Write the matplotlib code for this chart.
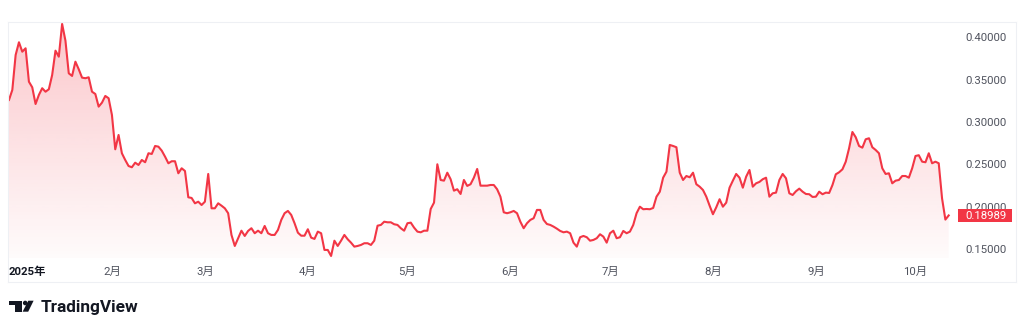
import numpy as np
import pandas as pd
import matplotlib
matplotlib.use("Agg")
import matplotlib.pyplot as plt
import matplotlib.dates as mdates
from matplotlib.patches import Rectangle, Polygon, Circle

plt.rcParams['font.family'] = ['Roboto', 'Noto Sans CJK JP', 'DejaVu Sans']

# ---- data (daily closes, 2025) ----
jan = [0.3261, 0.3379, 0.3791, 0.3941, 0.3830, 0.3870, 0.3476, 0.3410, 0.3213, 0.3320,
       0.3399, 0.3358, 0.3387, 0.3555, 0.3842, 0.3771, 0.4157, 0.3960, 0.3575, 0.3544,
       0.3712, 0.3623, 0.3524, 0.3517, 0.3528, 0.3358, 0.3331, 0.3182, 0.3229, 0.3308, 0.3281]
feb = [0.3084, 0.2679, 0.2848, 0.2632, 0.2553, 0.2482, 0.2467, 0.2521, 0.2494, 0.2553,
       0.2526, 0.2632, 0.2624, 0.2718, 0.2710, 0.2663, 0.2592, 0.2514, 0.2538, 0.2538,
       0.2396, 0.2455, 0.2423, 0.2113, 0.2105, 0.2042, 0.2061, 0.2022]
mar = [0.2061, 0.2388, 0.1983, 0.1983, 0.2042, 0.2014, 0.1983, 0.1925, 0.1669, 0.1539,
       0.1630, 0.1719, 0.1657, 0.1716, 0.1748, 0.1689, 0.1719, 0.1689, 0.1775, 0.1689,
       0.1669, 0.1669, 0.1728, 0.1846, 0.1925, 0.1952, 0.1905, 0.1807, 0.1696, 0.1660, 0.1660]
apr = [0.1736, 0.1637, 0.1622, 0.1708, 0.1689, 0.1492, 0.1492, 0.1421, 0.1601, 0.1539,
       0.1601, 0.1669, 0.1618, 0.1578, 0.1531, 0.1539, 0.1551, 0.1571, 0.1571, 0.1551,
       0.1601, 0.1778, 0.1787, 0.1825, 0.1818, 0.1818, 0.1795, 0.1787, 0.1748, 0.1719]
may = [0.1807, 0.1814, 0.1755, 0.1708, 0.1700, 0.1719, 0.1719, 0.1975, 0.2050, 0.2502,
       0.2317, 0.2309, 0.2403, 0.2326, 0.2191, 0.2208, 0.2152, 0.2317, 0.2247, 0.2267,
       0.2344, 0.2447, 0.2250, 0.2250, 0.2250, 0.2258, 0.2258, 0.2208, 0.2120, 0.1936, 0.1925]
jun = [0.1936, 0.1952, 0.1925, 0.1825, 0.1748, 0.1807, 0.1846, 0.1866, 0.1964, 0.1964,
       0.1846, 0.1798, 0.1787, 0.1767, 0.1743, 0.1716, 0.1700, 0.1708, 0.1689, 0.1578,
       0.1531, 0.1642, 0.1657, 0.1642, 0.1601, 0.1610, 0.1630, 0.1677, 0.1649, 0.1578]
jul = [0.1689, 0.1719, 0.1630, 0.1642, 0.1716, 0.1689, 0.1708, 0.1787, 0.1925, 0.2002,
       0.1972, 0.1975, 0.1972, 0.1987, 0.2120, 0.2179, 0.2344, 0.2415, 0.2730, 0.2718,
       0.2703, 0.2403, 0.2317, 0.2364, 0.2349, 0.2403, 0.2267, 0.2238, 0.2199, 0.2120, 0.2014]
aug = [0.1913, 0.1995, 0.2090, 0.2002, 0.2050, 0.2226, 0.2309, 0.2388, 0.2344, 0.2226,
       0.2356, 0.2435, 0.2238, 0.2278, 0.2294, 0.2326, 0.2344, 0.2120, 0.2160, 0.2168,
       0.2317, 0.2388, 0.2337, 0.2160, 0.2140, 0.2184, 0.2215, 0.2179, 0.2152, 0.2149, 0.2117]
sep = [0.2120, 0.2179, 0.2149, 0.2168, 0.2164, 0.2258, 0.2384, 0.2408, 0.2443, 0.2533,
       0.2691, 0.2883, 0.2821, 0.2718, 0.2698, 0.2797, 0.2809, 0.2703, 0.2671, 0.2632,
       0.2455, 0.2388, 0.2396, 0.2278, 0.2309, 0.2317, 0.2364, 0.2364, 0.2344, 0.2455]
oct_ = [0.2600, 0.2609, 0.2533, 0.2526, 0.2632, 0.2514, 0.2533, 0.2514, 0.2100, 0.1850, 0.18989]

start_date = '2025-01-01'
last_price_label = '0.18989'
y_ticks = [0.15, 0.20, 0.25, 0.30, 0.35, 0.40]
month_ticks = ['2025-01-01', '2025-02-01', '2025-03-01', '2025-04-01', '2025-05-01',
               '2025-06-01', '2025-07-01', '2025-08-01', '2025-09-01', '2025-10-01']
month_labels = ['2025年', '2月', '3月', '4月', '5月', '6月', '7月', '8月', '9月', '10月']

values = np.array(jan + feb + mar + apr + may + jun + jul + aug + sep + oct_)
dates = pd.date_range(start_date, periods=len(values), freq='D')

RED = '#F23645'
TXT = '#50535E'
DARK = '#131722'
BORDER = '#EEF0F4'

W, H = 1024, 331
fig = plt.figure(figsize=(W / 100, H / 100), dpi=100)
fig.patch.set_facecolor('white')

L, R, T, B = 8, 956, 22, 258
ax = fig.add_axes([L / W, 1 - B / H, (R - L) / W, (B - T) / H])
ax.set_facecolor('none')
for s in ax.spines.values():
    s.set_visible(False)

x = mdates.date2num(dates)
ymin, ymax = 0.1397, 0.4180

ax.plot(x, values, color=RED, lw=1.5, solid_joinstyle='round', zorder=3)

poly = ax.fill_between(x, values, ymin, facecolor='none', edgecolor='none')
path = poly.get_paths()[0]
grad = np.zeros((256, 1, 4))
grad[..., 0] = 242 / 255
grad[..., 1] = 54 / 255
grad[..., 2] = 69 / 255
grad[:, 0, 3] = np.linspace(0.02, 0.28, 256)
im = ax.imshow(grad, extent=[x[0], x[-1], ymin, values.max()], aspect='auto',
               origin='lower', zorder=1, interpolation='bilinear')
im.set_clip_path(path, ax.transData)

ax.set_ylim(ymin, ymax)
ax.set_xlim(x[0] - 0.3, x[0] + 285.2)

# y ticks on right
ax.yaxis.tick_right()
ax.set_yticks(y_ticks)
ax.set_yticklabels([f'{v:.5f}' for v in y_ticks])
ax.tick_params(axis='y', length=0, pad=36.7, labelsize=8.2, labelcolor=TXT)
for lab in ax.yaxis.get_ticklabels():
    lab.set_horizontalalignment('right')

# x ticks
ax.set_xticks(mdates.date2num(pd.to_datetime(month_ticks)))
ax.set_xticklabels(month_labels)
ax.tick_params(axis='x', length=0, pad=6.5, labelsize=8.2, labelcolor=TXT)
first = ax.xaxis.get_ticklabels()[0]
first.set_horizontalalignment('left')
first.set_fontweight('bold')
first.set_color(DARK)

# overlay in pixel coordinates
ov = fig.add_axes([0, 0, 1, 1], zorder=10)
ov.set_xlim(0, W)
ov.set_ylim(H, 0)
ov.axis('off')
ov.patch.set_alpha(0)

# borders
ov.plot([8, 1016], [22, 22], color=BORDER, lw=0.8)
ov.plot([8, 1016], [282, 282], color=BORDER, lw=0.8)
ov.plot([1016, 1016], [22, 282], color=BORDER, lw=0.8)
ov.plot([8, 8], [22, 282], color=BORDER, lw=0.8)

# last price tag
disp = ax.transData.transform((x[-1], values[-1]))
_, ty = ov.transData.inverted().transform(disp)
ov.add_patch(Rectangle((958, ty - 6.8), 54, 13.6, facecolor=RED, edgecolor='none'))
ov.text(1007, ty + 0.3, last_price_label, color='white', fontsize=8.2, ha='right', va='center')

# TradingView logo
ov.add_patch(Polygon([[9, 300.7], [21.5, 300.7], [21.5, 311.7], [15.3, 311.7],
                      [15.3, 305.3], [9, 305.3]], closed=True, facecolor=DARK, edgecolor='none'))
ov.add_patch(Circle((25.2, 303.0), 2.3, facecolor=DARK, edgecolor='none'))
ov.add_patch(Polygon([[28.3, 300.7], [33.6, 300.7], [28.2, 311.7], [22.6, 311.7]],
                     closed=True, facecolor=DARK, edgecolor='none'))
ov.text(40.5, 311.7, 'TradingView', color=DARK, fontsize=12.4, fontweight='bold',
        ha='left', va='baseline')

fig.savefig('out.png', dpi=100, facecolor='white')
